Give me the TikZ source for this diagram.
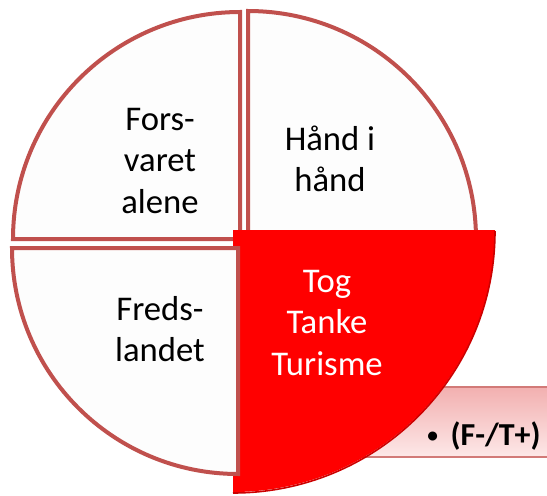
\documentclass[tikz,border=0pt]{standalone}
\usepackage{fontspec}
\setmainfont{Carlito}
\definecolor{quadline}{HTML}{C0504D}
\definecolor{quadfill}{HTML}{FDFDFD}
\definecolor{boxtop}{HTML}{F2B0B0}
\definecolor{boxbot}{HTML}{FDE8E8}
\definecolor{boxline}{HTML}{D27A78}
\tikzset{
  quad/.style={draw=quadline, line width=3pt, fill=quadfill, line join=miter},
  quadtext/.style={align=center, font=\fontsize{26}{31}\selectfont},
}

\begin{document}
\begin{tikzpicture}[x=0.75pt,y=0.75pt,yscale=-1,xscale=1]
\useasboundingbox (0,0) rectangle (547,496);

%Shape: Rectangle [callout behind the red part]
\draw [draw=boxline, line width=1.5pt, top color=boxtop, bottom color=boxbot]  (360,387) -- (556,387) -- (556,457) -- (360,457) -- cycle ;
%Shape: Quarter circle [top left]
\draw [quad]  (240,239) -- (13,239) arc [start angle=180, end angle=270, radius=227] -- cycle ;
%Shape: Quarter circle [top right]
\draw [quad]  (248,238) -- (248,11) arc [start angle=270, end angle=360, radius=228] -- cycle ;
%Shape: Quarter circle [bottom right, pulled out]
\fill [red]  (233,230) -- (495,230) arc [start angle=0, end angle=90, radius=262] -- cycle ;
\draw [red!80!black, line width=1.2pt]  (495,231) arc [start angle=0, end angle=90, radius=262] ;
%Shape: Quarter circle [bottom left]
\draw [quad]  (238,248) -- (238,474) arc [start angle=90, end angle=180, radius=226] -- cycle ;

%Text
\node [quadtext] (forsvaret) at (160,161) {Fors-\\varet\\alene};
\node [quadtext] (haand) at (330,159) {Hånd i\\hånd};
\node [quadtext] (freds) at (160,329) {Freds-\\landet};
\node [quadtext, text=white] (tog) at (327,323) {Tog\\Tanke\\Turisme};
\node [font=\fontsize{24}{28}\selectfont\bfseries] (ft) at (484,436) {\raisebox{2.5pt}{\fontsize{16}{20}\selectfont•}\, (F-/T+)};

\end{tikzpicture}
\end{document}
